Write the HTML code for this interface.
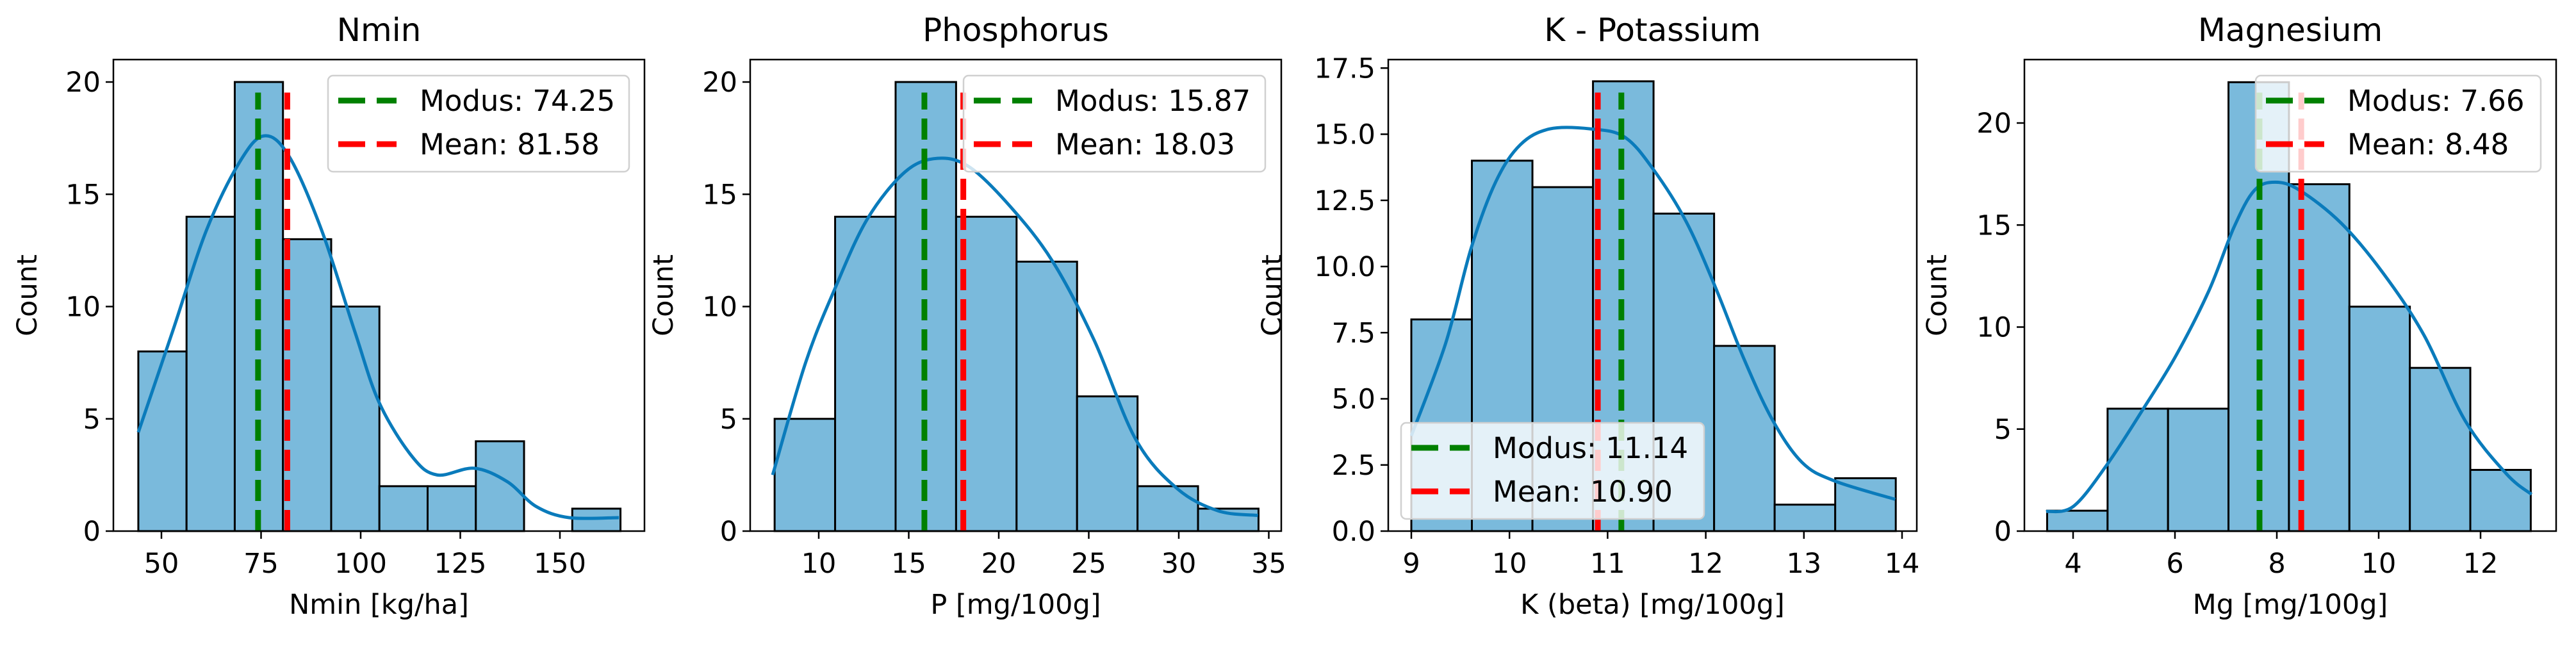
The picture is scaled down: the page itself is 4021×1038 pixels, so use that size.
<!DOCTYPE html>
<html><head><meta charset="utf-8"><style>
html,body{margin:0;padding:0;background:#fff;}
svg{display:block;font-family:"DejaVu Sans","Liberation Sans",sans-serif;}
</style></head><body>
<svg id="chart" width="4021" height="1038" viewBox="0 0 4021 1038" xmlns="http://www.w3.org/2000/svg"></svg>
<script>
// ---- Panel 1: Nmin ----
const nminBinStart = 44.2;
const nminBinWidth = 12.1;
const nminCounts = [8,14,20,13,10,2,2,4,0,1];
const nminKdeX = [44.2,53,61.3,69.5,75.7,82,90.2,98.5,104.7,113,119.2,128.5,136.8,144,152.3,164.8];
const nminKdeY = [4.4,9.0,13.4,16.4,17.6,16.7,13.4,8.9,5.7,3.3,2.5,2.8,2.2,1.1,0.6,0.6];
const nminXTicks = [50,75,100,125,150];
const nminYTicks = [0,5,10,15,20];
const nminStats = [74.25,81.58];
// ---- Panel 2: Phosphorus ----
const pBinStart = 7.55;
const pBinWidth = 3.36;
const pCounts = [5,14,20,14,12,6,2,1];
const pKdeX = [7.44,9.27,10.9,12.7,14.8,16.6,18.4,20.7,23.0,25.3,27.6,29.9,32.2,34.4];
const pKdeY = [2.5,7.5,10.8,13.9,16.0,16.6,16.2,14.4,12.0,8.5,4.1,1.9,0.9,0.7];
const pXTicks = [10,15,20,25,30,35];
const pYTicks = [0,5,10,15,20];
const pStats = [15.87,18.03];
// ---- Panel 3: Potassium ----
const kBinStart = 9.0;
const kBinWidth = 0.617;
const kCounts = [8,14,13,17,12,7,1,2];
const kKdeX = [9.0,9.35,9.61,9.86,10.11,10.41,10.83,11.17,11.46,11.80,12.10,12.39,12.68,12.98,13.31,13.93];
const kKdeY = [3.6,7.1,10.7,13.2,14.6,15.2,15.2,14.9,13.7,11.7,9.2,6.5,4.2,2.6,1.9,1.2];
const kXTicks = [9,10,11,12,13,14];
const kYTicks = [0,2.5,5,7.5,10,12.5,15,17.5];
const kStats = [11.14,10.90];
// ---- Panel 4: Magnesium ----
const mgBinStart = 3.49;
const mgBinWidth = 1.187;
const mgCounts = [1,6,6,22,17,11,8,3];
const mgKdeX = [3.47,4.0,4.65,5.38,6.02,6.67,7.16,7.56,7.97,8.45,9.26,10.07,10.89,11.70,12.51,13.0];
const mgKdeY = [0.96,1.2,3.2,6.0,8.6,11.8,14.9,16.7,17.1,16.7,15.1,12.7,9.6,5.4,2.8,1.8];
const mgXTicks = [4,6,8,10,12];
const mgYTicks = [0,5,10,15,20];
const mgStats = [7.66,8.48];

const NS = "http://www.w3.org/2000/svg";
const svg = document.getElementById('chart');
function mk(tag, attrs, parent){
  const e = document.createElementNS(NS, tag);
  for (const k in attrs) e.setAttribute(k, attrs[k]);
  (parent||svg).appendChild(e);
  return e;
}
function smoothPath(pts){
  let d = 'M'+pts[0][0]+','+pts[0][1];
  for (let i=0;i<pts.length-1;i++){
    const p0=pts[Math.max(0,i-1)], p1=pts[i], p2=pts[i+1], p3=pts[Math.min(pts.length-1,i+2)];
    const c1x=p1[0]+(p2[0]-p0[0])/6, c1y=p1[1]+(p2[1]-p0[1])/6;
    const c2x=p2[0]-(p3[0]-p1[0])/6, c2y=p2[1]-(p3[1]-p1[1])/6;
    d+=' C'+c1x+','+c1y+' '+c2x+','+c2y+' '+p2[0]+','+p2[1];
  }
  return d;
}

function panel(cfg){
  const g = mk('g', {});
  
  
  const L=cfg.left, R=cfg.right, T=93, B=829;
  const xs = v => cfg.x0px + (v - cfg.x0) * cfg.xppu;
  const ys = v => B - v * cfg.yppu;
  // bars
  cfg.counts.forEach((c,i)=>{
    if (c<=0) return;
    const xa = xs(cfg.binStart + i*cfg.binWidth), xb = xs(cfg.binStart + (i+1)*cfg.binWidth);
    const r = mk('rect', {x:xa, y:ys(c), width:xb-xa, height:B-ys(c), fill:'#7abadc', stroke:'#000', 'stroke-width':3}, g);
    
    
  });
  // kde
  const pts = cfg.kdeX.map((v,i)=>[xs(v), ys(cfg.kdeY[i])]);
  const kde = mk('path', {d:smoothPath(pts), fill:'none', stroke:'#0a7bbb', 'stroke-width':5}, g);
  
  
  // stat lines
  const lineTop = B - 0.93*(B-T);
  const colors = ['#008000','#ff0000'];
  cfg.stats.forEach((v,i)=>{
    const ln = mk('line', {x1:xs(v), x2:xs(v), y1:B, y2:lineTop, stroke:colors[i], 'stroke-width':9, 'stroke-dasharray':'33 14'}, g);
    
    
  });
  // frame
  const fr = mk('rect', {x:L, y:T, width:R-L, height:B-T, fill:'none', stroke:'#000', 'stroke-width':2.5}, g);
  
  
  // x ticks
  cfg.xTicks.forEach(v=>{
    const x=xs(v);
    mk('line',{x1:x,x2:x,y1:B,y2:B+12,stroke:'#000','stroke-width':2.5},g);
    const t = mk('text',{x:x,y:894,'text-anchor':'middle','font-size':43,fill:'#000'},g);
    t.textContent = v;
    
    
  });
  // y ticks
  cfg.yTicks.forEach(v=>{
    const y=ys(v);
    mk('line',{x1:L,x2:L-12,y1:y,y2:y,stroke:'#000','stroke-width':2.5},g);
    const t = mk('text',{x:L-20,y:y+15,'text-anchor':'end','font-size':43,fill:'#000'},g);
    t.textContent = cfg.yDec ? v.toFixed(1) : v;
    
    
  });
  // titles
  const tt = mk('text',{x:(L+R)/2,y:64,'text-anchor':'middle','font-size':50,fill:'#000'},g);
  tt.textContent = cfg.title;
  
  
  const xl = mk('text',{x:(L+R)/2,y:958,'text-anchor':'middle','font-size':43,fill:'#000'},g);
  xl.textContent = cfg.xlabel;
  
  
  const yl = mk('text',{x:cfg.ylabelX,y:(T+B)/2,'text-anchor':'middle','font-size':43,fill:'#000',transform:'rotate(-90 '+cfg.ylabelX+' '+((T+B)/2)+')'},g);
  yl.textContent = 'Count';
  
  
  // legend
  const lg = mk('g',{},g);
  
  
  const lx=cfg.legX, ly=cfg.legY;
  mk('rect',{x:lx,y:ly,width:cfg.legW,height:150,rx:8,fill:'#fff','fill-opacity':0.8,stroke:'#d0d0d0','stroke-width':2.5},lg);
  const labels=['Modus: '+cfg.stats[0].toFixed(2),'Mean: '+cfg.stats[1].toFixed(2)];
  labels.forEach((s,i)=>{
    const cy = ly+39+i*68;
    const h = mk('line',{x1:lx+16,x2:lx+107,y1:cy,y2:cy,stroke:colors[i],'stroke-width':9,'stroke-dasharray':'42 18'},lg);
    
    
    const t = mk('text',{x:lx+143,y:cy+16,'font-size':45,fill:'#000'},lg);
    t.textContent = s;
    
    
  });
}

panel({name:'nmin',title:'Nmin',xlabel:'Nmin [kg/ha]',left:177,right:1006,x0:50,x0px:252,xppu:6.22,yppu:35.05,
  binStart:nminBinStart,binWidth:nminBinWidth,counts:nminCounts,kdeX:nminKdeX,kdeY:nminKdeY,xTicks:nminXTicks,yTicks:nminYTicks,stats:nminStats,
  ylabelX:57,legX:512,legY:118,legW:470});
panel({name:'phosphorus',title:'Phosphorus',xlabel:'P [mg/100g]',left:1171,right:2000,x0:10,x0px:1278,xppu:28.1,yppu:35.05,
  binStart:pBinStart,binWidth:pBinWidth,counts:pCounts,kdeX:pKdeX,kdeY:pKdeY,xTicks:pXTicks,yTicks:pYTicks,stats:pStats,
  ylabelX:1050,legX:1504,legY:118,legW:471});
panel({name:'potassium',title:'K - Potassium',xlabel:'K (beta) [mg/100g]',left:2167,right:2992,x0:9,x0px:2203,xppu:153.2,yppu:41.3,yDec:true,
  binStart:kBinStart,binWidth:kBinWidth,counts:kCounts,kdeX:kKdeX,kdeY:kKdeY,xTicks:kXTicks,yTicks:kYTicks,stats:kStats,
  ylabelX:2000,legX:2187,legY:660,legW:473});
panel({name:'magnesium',title:'Magnesium',xlabel:'Mg [mg/100g]',left:3160,right:3990,x0:4,x0px:3236,xppu:79.5,yppu:31.85,
  binStart:mgBinStart,binWidth:mgBinWidth,counts:mgCounts,kdeX:mgKdeX,kdeY:mgKdeY,xTicks:mgXTicks,yTicks:mgYTicks,stats:mgStats,
  ylabelX:3038,legX:3521,legY:118,legW:445});
</script>
</body></html>
